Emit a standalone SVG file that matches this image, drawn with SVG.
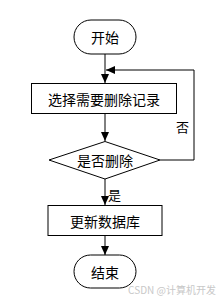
<svg xmlns="http://www.w3.org/2000/svg" width="221" height="301" viewBox="0 0 221 301">
<style>
.n{fill:#fff;stroke:#000;stroke-width:1}
.t{font-family:"Noto Sans CJK SC","Noto Sans CJK JP",sans-serif;font-size:14px;fill:#000;text-anchor:middle;dominant-baseline:central}
.c{fill:none;stroke:#000;stroke-width:1}
.l{font-family:"Noto Sans CJK SC",sans-serif;font-size:13px;fill:#000}
.w{font-family:"Noto Sans CJK SC",sans-serif;font-size:10px;fill:#c8c8c8;text-anchor:end}
</style>
<defs>
<marker id="a" markerWidth="10" markerHeight="10" refX="9" refY="5" orient="auto" markerUnits="userSpaceOnUse">
<path d="M0,1 L9,5 L0,9 Z" fill="#000"/>
</marker>
</defs>
<rect width="221" height="301" fill="#fff"/>
<g id="connectors">
<path class="c" d="M105,54 V83" marker-end="url(#a)"/>
<path class="c" d="M105,113 V141" marker-end="url(#a)"/>
<path class="c" d="M160,160 H194 V70 H106" marker-end="url(#a)"/>
<path class="c" d="M105,179 V205" marker-end="url(#a)"/>
<path class="c" d="M105,235 V255" marker-end="url(#a)"/>
<text class="l" x="176" y="132">否</text>
<text class="l" x="108" y="200">是</text>
</g>
<g id="start">
<rect class="n" x="74" y="20" width="62" height="34" rx="17"/>
<text class="t" x="105" y="37">开始</text>
</g>
<g id="select">
<rect class="n" x="31.5" y="83.5" width="145" height="30"/>
<text class="t" x="104" y="98.5">选择需要删除记录</text>
</g>
<g id="decide">
<polygon class="n" points="105,141.5 160,160 105,179 49,160"/>
<text class="t" x="105" y="160">是否删除</text>
</g>
<g id="update">
<rect class="n" x="48" y="205.5" width="114" height="30"/>
<text class="t" x="105" y="220.5">更新数据库</text>
</g>
<g id="end">
<rect class="n" x="74" y="255" width="62" height="33" rx="16.5"/>
<text class="t" x="105" y="271.5">结束</text>
</g>
<text class="w" x="216" y="294">CSDN @计算机开发</text>
</svg>
